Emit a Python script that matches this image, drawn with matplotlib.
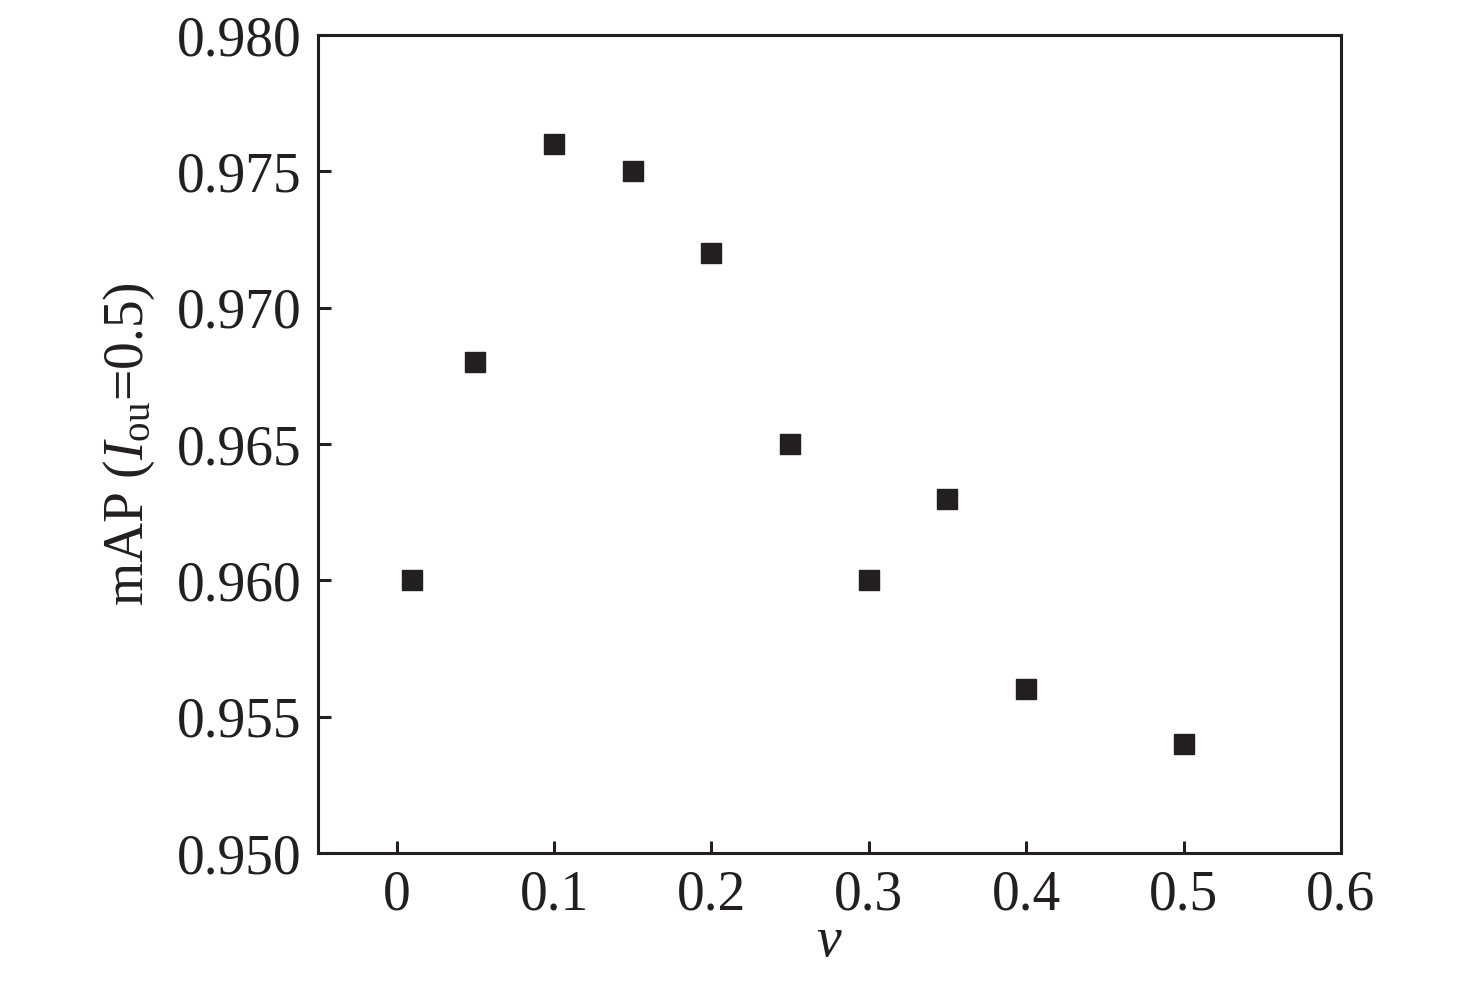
import numpy as np
import matplotlib
matplotlib.use("Agg")
import matplotlib.pyplot as plt

plt.rcParams['font.family'] = ['Liberation Serif', 'DejaVu Serif']
plt.rcParams['mathtext.fontset'] = 'custom'
plt.rcParams['mathtext.rm'] = 'Liberation Serif'
plt.rcParams['mathtext.it'] = 'Liberation Serif:italic'

# data
v = [0.01, 0.05, 0.10, 0.15, 0.20, 0.25, 0.30, 0.35, 0.40, 0.50]
mAP = [0.960, 0.968, 0.976, 0.975, 0.972, 0.965, 0.960, 0.963, 0.956, 0.954]
xticks = [0, 0.1, 0.2, 0.3, 0.4, 0.5, 0.6]
xtick_labels = ["0", "0.1", "0.2", "0.3", "0.4", "0.5", "0.6"]
yticks = [0.950, 0.955, 0.960, 0.965, 0.970, 0.975, 0.980]

ink = '#231f20'

fig = plt.figure(figsize=(14.76, 9.84), dpi=100)
ax = fig.add_axes([0.2154, 0.1331, 0.6931, 0.8313])

ax.plot(v, mAP, linestyle='none', marker='s', markersize=14,
        color=ink, markeredgecolor=ink)

ax.set_xlim(-0.05, 0.6)
ax.set_ylim(0.950, 0.980)
ax.set_xticks(xticks)
ax.set_xticklabels(xtick_labels)
ax.set_yticks(yticks)
ax.set_yticklabels([f"{t:.3f}" for t in yticks])

ax.tick_params(direction='in', length=9, width=2.2, color=ink,
               labelsize=40, labelcolor=ink, pad=12)
for s in ax.spines.values():
    s.set_linewidth(2.2)
    s.set_color(ink)

ax.set_xlabel(r"$v$", fontsize=40, color=ink, labelpad=-4)
ax.set_ylabel(r"mAP ($I_{\mathrm{ou}}$=0.5)", fontsize=40, color=ink, labelpad=14)

fig.savefig("out.png", dpi=100)
